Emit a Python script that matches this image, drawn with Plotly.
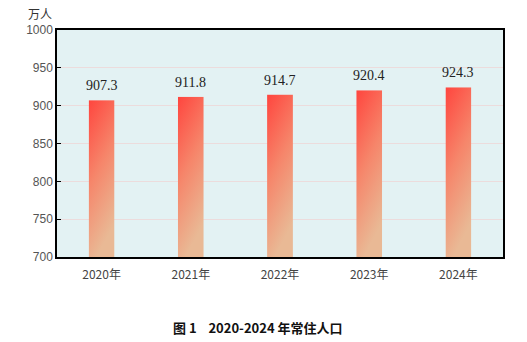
import base64
import plotly.graph_objects as go

years = ["2020年", "2021年", "2022年", "2023年", "2024年"]
population = [907.3, 911.8, 914.7, 920.4, 924.3]
value_labels = ["907.3", "911.8", "914.7", "920.4", "924.3"]
y_ticks = [700, 750, 800, 850, 900, 950, 1000]

BASE = 700
BAR_W = 0.29

svg = (
    '<svg xmlns="http://www.w3.org/2000/svg" width="100" height="100" preserveAspectRatio="none">'
    '<defs><linearGradient id="g" x1="0" y1="0" x2="0.3" y2="1">'
    '<stop offset="0" stop-color="#ff453e"/>'
    '<stop offset="0.5" stop-color="#f6856a"/>'
    '<stop offset="1" stop-color="#e9b995"/>'
    '</linearGradient></defs>'
    '<rect x="0" y="0" width="100" height="100" fill="url(#g)"/></svg>'
)
grad_src = "data:image/svg+xml;base64," + base64.b64encode(svg.encode()).decode()

fig = go.Figure()
fig.add_trace(go.Bar(
    x=years, y=[v - BASE for v in population], base=BASE,
    marker=dict(color="rgba(0,0,0,0)", line=dict(width=0)),
    width=BAR_W, hoverinfo="skip", showlegend=False,
))

for i, (yr, v, lab) in enumerate(zip(years, population, value_labels)):
    fig.add_layout_image(dict(
        source=grad_src, xref="x", yref="y", x=i, y=v,
        sizex=BAR_W, sizey=v - BASE, xanchor="center", yanchor="top",
        sizing="stretch", layer="above",
    ))
    fig.add_annotation(x=yr, y=v, text=lab, showarrow=False, yanchor="bottom",
                       yshift=5, font=dict(family="Liberation Serif, serif", size=14, color="#222"))

fig.add_annotation(xref="paper", yref="paper", x=-0.038, y=1.0, yshift=17, xanchor="center",
                   yanchor="middle", text="万人", showarrow=False,
                   font=dict(family="Noto Sans CJK SC", size=12, color="#333"))

fig.add_annotation(xref="paper", yref="paper", x=0.45, y=0, yshift=-70, xanchor="center",
                   yanchor="middle", text="<b>图 1    2020-2024 年常住人口</b>", showarrow=False,
                   font=dict(family="Noto Sans CJK SC", size=13, color="#111"))

fig.update_layout(
    width=527, height=342,
    margin=dict(l=57, r=24, t=30, b=85),
    paper_bgcolor="white", plot_bgcolor="#e3f2f3",
    barmode="overlay", bargap=0.7,
    font=dict(family="Noto Sans CJK SC", size=12, color="#444"),
)
fig.update_xaxes(showline=True, linecolor="black", linewidth=1.5, mirror=True,
                 ticks="", ticklabelstandoff=6, tickfont=dict(size=12, color="#444"), showgrid=False)
fig.update_yaxes(range=[700, 1000], tickvals=y_ticks, showline=True, linecolor="black",
                 linewidth=1.5, mirror=True, ticks="inside", ticklen=4, tickcolor="black",
                 gridcolor="#ecdcdc", gridwidth=1, zeroline=False,
                 tickfont=dict(family="Liberation Sans, sans-serif", size=12, color="#555"))

fig.write_html("out.html")
